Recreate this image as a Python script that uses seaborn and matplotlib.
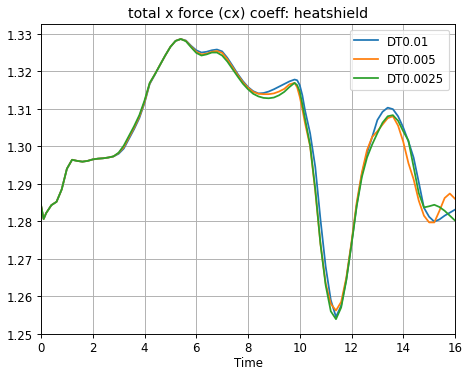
import numpy as np
import pandas as pd
import matplotlib
matplotlib.use("Agg")
import matplotlib.pyplot as plt
import seaborn as sns

time = [0.0, 0.1, 0.2, 0.4, 0.6, 0.8, 1.0, 1.2, 1.4, 1.6, 1.8, 2.0, 2.2, 2.4, 2.6, 2.8,
        3.0, 3.2, 3.4, 3.6, 3.8, 4.0, 4.2, 4.4, 4.6, 4.8, 5.0, 5.2, 5.4, 5.6, 5.8,
        6.0, 6.2, 6.4, 6.6, 6.8, 7.0, 7.2, 7.4, 7.6, 7.8, 8.0, 8.2, 8.4, 8.6, 8.8,
        9.0, 9.2, 9.4, 9.6, 9.8, 9.9, 10.0, 10.1, 10.2, 10.4, 10.6, 10.8, 11.0, 11.2, 11.4, 11.6, 11.8,
        12.0, 12.2, 12.4, 12.6, 12.8, 13.0, 13.2, 13.4, 13.6, 13.8, 14.0, 14.2, 14.4, 14.6, 14.8,
        15.0, 15.2, 15.4, 15.6, 15.8, 16.0]

start = [1.2843, 1.2806, 1.2822, 1.2843, 1.2852, 1.2885, 1.2940, 1.2964, 1.2961, 1.2959,
         1.2961, 1.2965, 1.2967, 1.2968, 1.2970, 1.2973]

dt_0_01 = start + [
    1.2980, 1.2994, 1.3020, 1.3046, 1.3075, 1.3115, 1.3166, 1.3191, 1.3217, 1.3242,
    1.3265, 1.3281, 1.3286, 1.3282, 1.3268,
    1.3256, 1.3250, 1.3252, 1.3256, 1.3258, 1.3253, 1.3236, 1.3215, 1.3193, 1.3174,
    1.3158, 1.3147, 1.3141, 1.3142, 1.3146,
    1.3152, 1.3159, 1.3166, 1.3173, 1.3178, 1.3176, 1.3163, 1.3136, 1.3097, 1.3035, 1.2945, 1.2805,
    1.2680, 1.2590, 1.2545, 1.2575, 1.2645,
    1.2740, 1.2843, 1.2925, 1.2982, 1.3025, 1.3070, 1.3092, 1.3103, 1.3099, 1.3080,
    1.3050, 1.3013, 1.2970, 1.2904, 1.2836,
    1.2812, 1.2799, 1.2805, 1.2815, 1.2823, 1.2831]

dt_0_005 = start + [
    1.2982, 1.2998, 1.3024, 1.3050, 1.3079, 1.3118, 1.3168, 1.3192, 1.3217, 1.3242,
    1.3265, 1.3281, 1.3286, 1.3281, 1.3266,
    1.3252, 1.3245, 1.3247, 1.3252, 1.3254, 1.3249, 1.3232, 1.3211, 1.3190, 1.3171,
    1.3156, 1.3145, 1.3140, 1.3139, 1.3139,
    1.3141, 1.3146, 1.3153, 1.3165, 1.3169, 1.3157, 1.3132, 1.3099, 1.3063, 1.3000, 1.2880, 1.2740,
    1.2635, 1.2580, 1.2562, 1.2585, 1.2650,
    1.2745, 1.2850, 1.2930, 1.2990, 1.3025, 1.3040, 1.3058, 1.3075, 1.3080, 1.3055,
    1.3012, 1.2955, 1.2912, 1.2855, 1.2815,
    1.2797, 1.2797, 1.2828, 1.2862, 1.2874, 1.2860]

dt_0_0025 = start + [
    1.2983, 1.3002, 1.3028, 1.3054, 1.3083, 1.3122, 1.3169, 1.3192, 1.3217, 1.3242,
    1.3265, 1.3281, 1.3286, 1.3280, 1.3264,
    1.3249, 1.3242, 1.3245, 1.3250, 1.3250, 1.3242, 1.3226, 1.3206, 1.3186, 1.3167,
    1.3152, 1.3140, 1.3133, 1.3129, 1.3128,
    1.3130, 1.3136, 1.3145, 1.3158, 1.3169, 1.3163, 1.3146, 1.3112, 1.3075, 1.3003, 1.2885, 1.2740,
    1.2630, 1.2560, 1.2539, 1.2570, 1.2643,
    1.2738, 1.2840, 1.2918, 1.2970, 1.3005, 1.3035, 1.3063, 1.3080, 1.3083, 1.3068,
    1.3040, 1.3015, 1.2945, 1.2875, 1.2837,
    1.2840, 1.2844, 1.2838, 1.2828, 1.2815, 1.2802]

series_names = ["DT0.01", "DT0.005", "DT0.0025"]
series_values = [dt_0_01, dt_0_005, dt_0_0025]
x_ticks = [0, 2, 4, 6, 8, 10, 12, 14, 16]
y_ticks = [1.25, 1.26, 1.27, 1.28, 1.29, 1.30, 1.31, 1.32, 1.33]
y_tick_labels = ["1.25", "1.26", "1.27", "1.28", "1.29", "1.30", "1.31", "1.32", "1.33"]

frames = []
for name, vals in zip(series_names, series_values):
    frames.append(pd.DataFrame({"Time": time, "cx": vals, "run": name}))
df = pd.concat(frames, ignore_index=True)

plt.rcParams["font.family"] = ["DejaVu Sans"]
DPI = 84.5
fig = plt.figure(figsize=(464 / DPI, 369 / DPI), dpi=DPI)
ax = fig.add_axes([0.0884, 0.0927, 0.8922, 0.8395])

sns.lineplot(data=df, x="Time", y="cx", hue="run", hue_order=series_names,
             palette=["#1f77b4", "#ff7f0e", "#2ca02c"], linewidth=1.5,
             ax=ax, estimator=None, sort=False)

ax.set_xlim(0, 16)
ax.set_ylim(1.25, 1.3326)
ax.set_xticks(x_ticks)
ax.set_yticks(y_ticks)
ax.set_yticklabels(y_tick_labels)
ax.tick_params(axis="x", pad=2.5)
ax.grid(True, color="#b0b0b0", linewidth=0.8)
ax.set_axisbelow(True)
ax.set_xlabel("Time", labelpad=1.5)
ax.set_ylabel("")
ax.set_title("total x force (cx) coeff: heatshield", fontsize=12)
ax.legend(loc="upper right", title=None)

fig.savefig("out.png", dpi=DPI)
